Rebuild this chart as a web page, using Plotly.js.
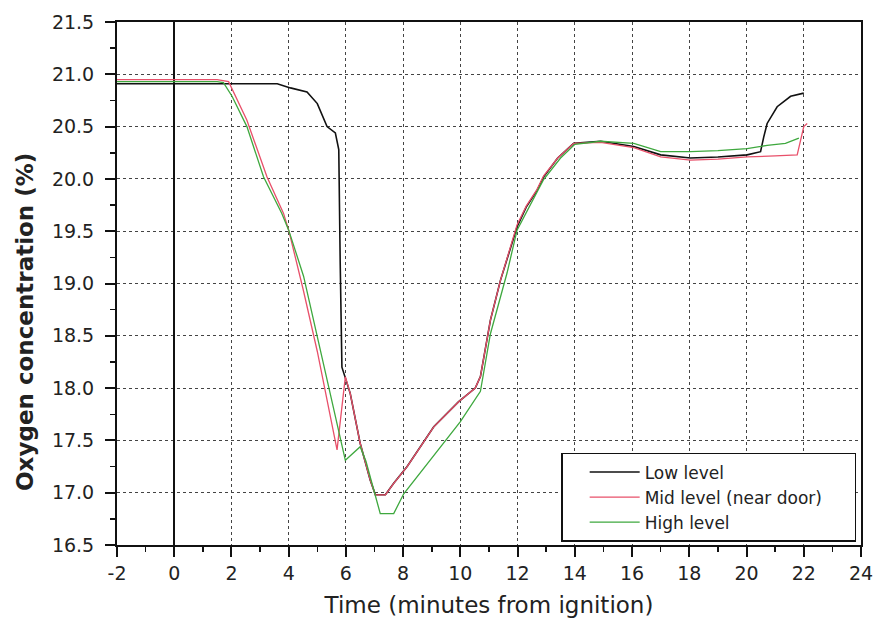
<!DOCTYPE html>
<html>
<head>
<meta charset="utf-8">
<script src="https://cdn.plot.ly/plotly-3.0.1.min.js"></script>
<style>html,body{margin:0;padding:0;background:#fff;}#chart{width:876px;height:628px;}</style>
</head>
<body>
<div id="chart"></div>
<script>
// Time (minutes from ignition) and oxygen concentration (%)
const lowX = [-2, 0, 2, 3.6, 4.06, 4.64, 5.0, 5.34, 5.63, 5.75, 5.8, 5.86, 6.15, 6.5, 6.85, 7.03, 7.38, 7.67, 8.14, 9.07, 9.94, 10.52, 10.7, 11.05, 11.4, 11.98, 12.3, 12.68, 12.91, 13.4, 13.96, 14.9, 16.06, 17.0, 18.04, 19.0, 20.02, 20.49, 20.6, 20.72, 21.07, 21.54, 22.0];
const lowY = [20.91, 20.91, 20.91, 20.91, 20.87, 20.83, 20.72, 20.50, 20.44, 20.28, 19.2, 18.20, 17.95, 17.47, 17.12, 16.98, 16.98, 17.09, 17.25, 17.63, 17.87, 18.0, 18.11, 18.65, 19.03, 19.54, 19.73, 19.89, 20.02, 20.2, 20.34, 20.36, 20.31, 20.23, 20.20, 20.21, 20.23, 20.26, 20.4, 20.53, 20.69, 20.79, 20.82];

const midX = [-2, 0, 1.5, 1.9, 2.54, 3.24, 3.82, 4.0, 4.5, 5.0, 5.69, 5.98, 6.15, 6.5, 6.85, 7.03, 7.38, 7.67, 8.14, 9.07, 9.94, 10.52, 10.7, 11.05, 11.4, 11.98, 12.3, 12.68, 12.91, 13.4, 13.96, 14.9, 16.06, 17.0, 18.04, 19.0, 20.02, 21.0, 21.77, 22.0, 22.12];
const midY = [20.95, 20.95, 20.95, 20.93, 20.56, 20.02, 19.67, 19.51, 18.95, 18.35, 17.41, 18.11, 17.95, 17.47, 17.12, 16.98, 16.98, 17.09, 17.25, 17.63, 17.87, 18.0, 18.11, 18.65, 19.03, 19.56, 19.74, 19.9, 20.03, 20.2, 20.34, 20.35, 20.30, 20.21, 20.18, 20.19, 20.21, 20.22, 20.23, 20.5, 20.53];

const highX = [-2, 0, 1.5, 1.72, 2.02, 2.54, 3.12, 3.76, 4.0, 4.52, 5.0, 5.8, 5.98, 6.5, 6.7, 7.2, 7.67, 8.02, 9.0, 10.0, 10.7, 11.05, 11.63, 11.98, 12.9, 13.5, 14.0, 14.9, 16.06, 17.0, 18.04, 19.0, 20.02, 20.72, 21.36, 21.83];
const highY = [20.93, 20.93, 20.93, 20.92, 20.79, 20.5, 20.02, 19.67, 19.51, 19.07, 18.5, 17.54, 17.31, 17.44, 17.3, 16.80, 16.80, 16.99, 17.33, 17.68, 17.97, 18.52, 19.10, 19.51, 19.99, 20.2, 20.33, 20.36, 20.34, 20.26, 20.26, 20.27, 20.29, 20.32, 20.34, 20.39];

const seriesNames = ["Low level", "Mid level (near door)", "High level"];
const seriesColors = ["#111111", "#e8506a", "#3ea83e"];

const xTicks = [-2, 0, 2, 4, 6, 8, 10, 12, 14, 16, 18, 20, 22, 24];
const yTicks = [16.5, 17.0, 17.5, 18.0, 18.5, 19.0, 19.5, 20.0, 20.5, 21.0, 21.5];
const yTitle = "Oxygen concentration (%)";
const xTitle = "Time (minutes from ignition)";

// trailing non-breaking spaces only widen the legend frame to the reference's size
const legendPad = "\u00a0\u00a0\u00a0\u00a0\u00a0";
const traces = [
  {x: lowX, y: lowY, name: seriesNames[0], mode: "lines", line: {color: seriesColors[0], width: 1.6}},
  {x: midX, y: midY, name: seriesNames[1] + legendPad, mode: "lines", line: {color: seriesColors[1], width: 1.3}},
  {x: highX, y: highY, name: seriesNames[2], mode: "lines", line: {color: seriesColors[2], width: 1.3}}
];

const font = "DejaVu Sans, Liberation Sans, Arial, sans-serif";
const layout = {
  width: 876, height: 628,
  margin: {l: 117, r: 15, t: 22, b: 83},
  paper_bgcolor: "#fff", plot_bgcolor: "#fff",
  font: {family: font, color: "#222", size: 16},
  showlegend: true,
  legend: {
    x: 0.597, y: 0.176, xanchor: "left", yanchor: "top",
    orientation: "v", indentation: 22,
    bgcolor: "#fff", bordercolor: "#111", borderwidth: 1.5,
    font: {family: font, size: 17, color: "#222"},
    itemwidth: 50, tracegroupgap: 0
  },
  annotations: [{
    text: yTitle, textangle: -90, showarrow: false,
    xref: "paper", yref: "paper", x: -0.124, y: 0.426, xanchor: "center", yanchor: "middle",
    font: {size: 23, family: font, color: "#222", weight: "bold"}
  }],
  xaxis: {
    range: [-2, 24], tickvals: xTicks, ticktext: xTicks.map(String),
    showline: true, linecolor: "#111", linewidth: 2, mirror: true,
    ticks: "outside", ticklen: 10, tickwidth: 2, tickcolor: "#111",
    minor: {ticks: "outside", dtick: 1, ticklen: 5, tickwidth: 1.5, tickcolor: "#111", showgrid: false},
    showgrid: true, gridcolor: "#444", griddash: "dot", gridwidth: 1,
    zeroline: true, zerolinecolor: "#111", zerolinewidth: 2.5,
    tickfont: {size: 19, family: font, color: "#222"},
    title: {text: xTitle, font: {size: 23, family: font, color: "#222"}, standoff: 14}
  },
  yaxis: {
    range: [16.5, 21.5], tickvals: yTicks, ticktext: yTicks.map(v => v.toFixed(1)),
    showline: true, linecolor: "#111", linewidth: 2, mirror: true,
    ticks: "outside", ticklen: 10, tickwidth: 2, tickcolor: "#111",
    ticklabelstandoff: 7,
    minor: {ticks: "outside", dtick: 0.25, ticklen: 5, tickwidth: 1.5, tickcolor: "#111", showgrid: false},
    showgrid: true, gridcolor: "#444", griddash: "dot", gridwidth: 1,
    zeroline: false,
    tickfont: {size: 19, family: font, color: "#222"}
  }
};

Plotly.newPlot("chart", traces, layout, {displayModeBar: false, staticPlot: true});
</script>
</body>
</html>
